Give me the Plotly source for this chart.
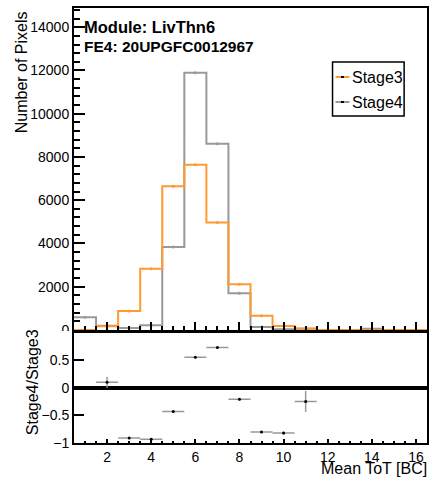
import plotly.graph_objects as go

# ---- data ----
bin_centers = [1, 2, 3, 4, 5, 6, 7, 8, 9, 10, 11, 12, 13, 14, 15, 16]
stage3 = [0, 170, 880, 2830, 6640, 7640, 4970, 2110, 660, 185, 70, 0, 0, 0, 0, 0]
stage4 = [580, 190, 85, 210, 3830, 11900, 8610, 1700, 135, 33, 52, 0, 0, 50, 0, 0]

ratio_x = [2, 3, 4, 5, 6, 7, 8, 9, 10, 11]
ratio_y = [0.10, -0.91, -0.93, -0.43, 0.55, 0.73, -0.21, -0.80, -0.82, -0.25]
ratio_err = [0.10, 0.01, 0.01, 0.01, 0.01, 0.01, 0.02, 0.02, 0.03, 0.19]

y_ticks_main = [0, 2000, 4000, 6000, 8000, 10000, 12000, 14000]
y_ticktext_main = ["0", "2000", "4000", "6000", "8000", "10000", "12000", "14000"]
y_ticks_ratio = [-1, -0.5, 0, 0.5]
y_ticktext_ratio = ["\u22121", "\u22120.5", "0", "0.5"]

ORANGE = "#ff9933"
GRAY = "#999999"
FONT = "Liberation Sans, Arial, sans-serif"

W, H = 433, 481
ML, MR, MT, MB = 74, 4, 8, 38
PW, PH = W - ML - MR, H - MT - MB


def px(x):
    return (x - ML) / PW


def py(y):
    return (H - MB - y) / PH


def steps(vals):
    xs = [c - 0.5 for c in bin_centers] + [bin_centers[-1] + 0.5]
    ys = list(vals) + [vals[-1]]
    return xs, ys


fig = go.Figure()

for vals, col in [(stage4, GRAY), (stage3, ORANGE)]:
    xs, ys = steps(vals)
    fig.add_trace(go.Scatter(x=xs, y=ys, mode="lines", line=dict(shape="hv", color=col, width=2),
                             xaxis="x", yaxis="y", showlegend=False, hoverinfo="skip"))
    fig.add_trace(go.Scatter(x=bin_centers, y=vals, mode="markers",
                             marker=dict(color=col, size=3, symbol="circle"),
                             xaxis="x", yaxis="y", showlegend=False))

fig.add_trace(go.Scatter(
    x=ratio_x, y=ratio_y, mode="markers",
    marker=dict(color="black", size=3),
    error_x=dict(type="constant", value=0.5, color=GRAY, thickness=1.5, width=0),
    error_y=dict(type="data", array=ratio_err, color=GRAY, thickness=1.5, width=0),
    xaxis="x2", yaxis="y2", showlegend=False))

axis_common = dict(showline=True, linecolor="black", linewidth=2, mirror=True,
                   showgrid=False, zeroline=False, ticks="inside", tickcolor="black",
                   tickfont=dict(family=FONT, size=14, color="black"))

fig.update_layout(
    width=W, height=H,
    margin=dict(l=ML, r=MR, t=MT, b=MB),
    paper_bgcolor="white", plot_bgcolor="white",
    font=dict(family=FONT, color="black"),
    xaxis=dict(**axis_common, domain=[0, 1], anchor="y", range=[0.5, 16.5],
               tick0=0, dtick=2, ticklen=8, tickwidth=2, showticklabels=False,
               minor=dict(ticks="inside", dtick=0.5, tick0=0, ticklen=4, tickwidth=1.5, tickcolor="black")),
    yaxis=dict(**axis_common, domain=[0.26, 1], anchor="x", range=[0, 14890],
               tickvals=y_ticks_main, ticktext=y_ticktext_main, ticklen=11, tickwidth=2,
               minor=dict(ticks="inside", dtick=400, tick0=0, ticklen=6, tickwidth=1.5, tickcolor="black")),
    xaxis2=dict(**axis_common, domain=[0, 1], anchor="y2", range=[0.5, 16.5],
                tick0=0, dtick=2, ticklen=4, tickwidth=2, ticklabelstandoff=0,
                minor=dict(ticks="inside", dtick=0.5, tick0=0, ticklen=2, tickwidth=1.5, tickcolor="black")),
    yaxis2=dict(showline=True, linecolor="black", linewidth=2, mirror=True,
                showgrid=False, zeroline=True, zerolinecolor="black", zerolinewidth=4,
                ticks="inside", tickcolor="black",
                tickfont=dict(family=FONT, size=14, color="black"),
                domain=[0, 0.254], anchor="x2", range=[-1, 1],
                tickvals=y_ticks_ratio, ticktext=y_ticktext_ratio, ticklen=10, tickwidth=2),
)

ann = []
ann.append(dict(text="<b>Module: LivThn6</b>", x=px(82), y=py(27.5), xanchor="left", yanchor="middle",
                font=dict(size=16.5, family=FONT)))
ann.append(dict(text="<b>FE4: 20UPGFC0012967</b>", x=px(82), y=py(46), xanchor="left", yanchor="middle",
                font=dict(size=15.5, family=FONT)))
ann.append(dict(text="Number of Pixels", x=px(21), y=py(72), textangle=-90, xanchor="center",
                yanchor="middle", font=dict(size=16, family=FONT)))
ann.append(dict(text="Stage4/Stage3", x=px(32), y=py(382), textangle=-90, xanchor="center",
                yanchor="middle", font=dict(size=16, family=FONT)))
ann.append(dict(text="Mean ToT [BC]", x=px(431), y=py(468), xanchor="right", yanchor="middle",
                font=dict(size=16, family=FONT)))
# legend
ann.append(dict(text="Stage3", x=px(352), y=py(77), xanchor="left", yanchor="middle",
                font=dict(size=16, family=FONT)))
ann.append(dict(text="Stage4", x=px(352), y=py(102), xanchor="left", yanchor="middle",
                font=dict(size=16, family=FONT)))
for a in ann:
    a.update(xref="paper", yref="paper", showarrow=False)
fig.update_layout(annotations=ann)

shapes = [
    dict(type="rect", x0=px(334), x1=px(406), y0=py(62), y1=py(116),
         line=dict(color="black", width=1.5), fillcolor="white", layer="above"),
    dict(type="line", x0=px(337), x1=px(351), y0=py(77), y1=py(77), line=dict(color=ORANGE, width=2), layer="above"),
    dict(type="line", x0=px(337), x1=px(351), y0=py(102), y1=py(102), line=dict(color=GRAY, width=2), layer="above"),
    dict(type="rect", x0=px(342.5), x1=px(345.5), y0=py(76), y1=py(78), line=dict(width=0), fillcolor="black", layer="above"),
    dict(type="rect", x0=px(342.5), x1=px(345.5), y0=py(101), y1=py(103), line=dict(width=0), fillcolor="black", layer="above"),
    # ROOT lower pad overlaps the lower half of the "0" label
    dict(type="rect", x0=px(40), x1=px(72), y0=py(331), y1=py(340), line=dict(width=0), fillcolor="white", layer="above"),
]
for s in shapes:
    s.update(xref="paper", yref="paper")
fig.update_layout(shapes=shapes)

fig.write_html("out.html", config={"displayModeBar": False},
               post_script="document.body.style.margin='0';")
